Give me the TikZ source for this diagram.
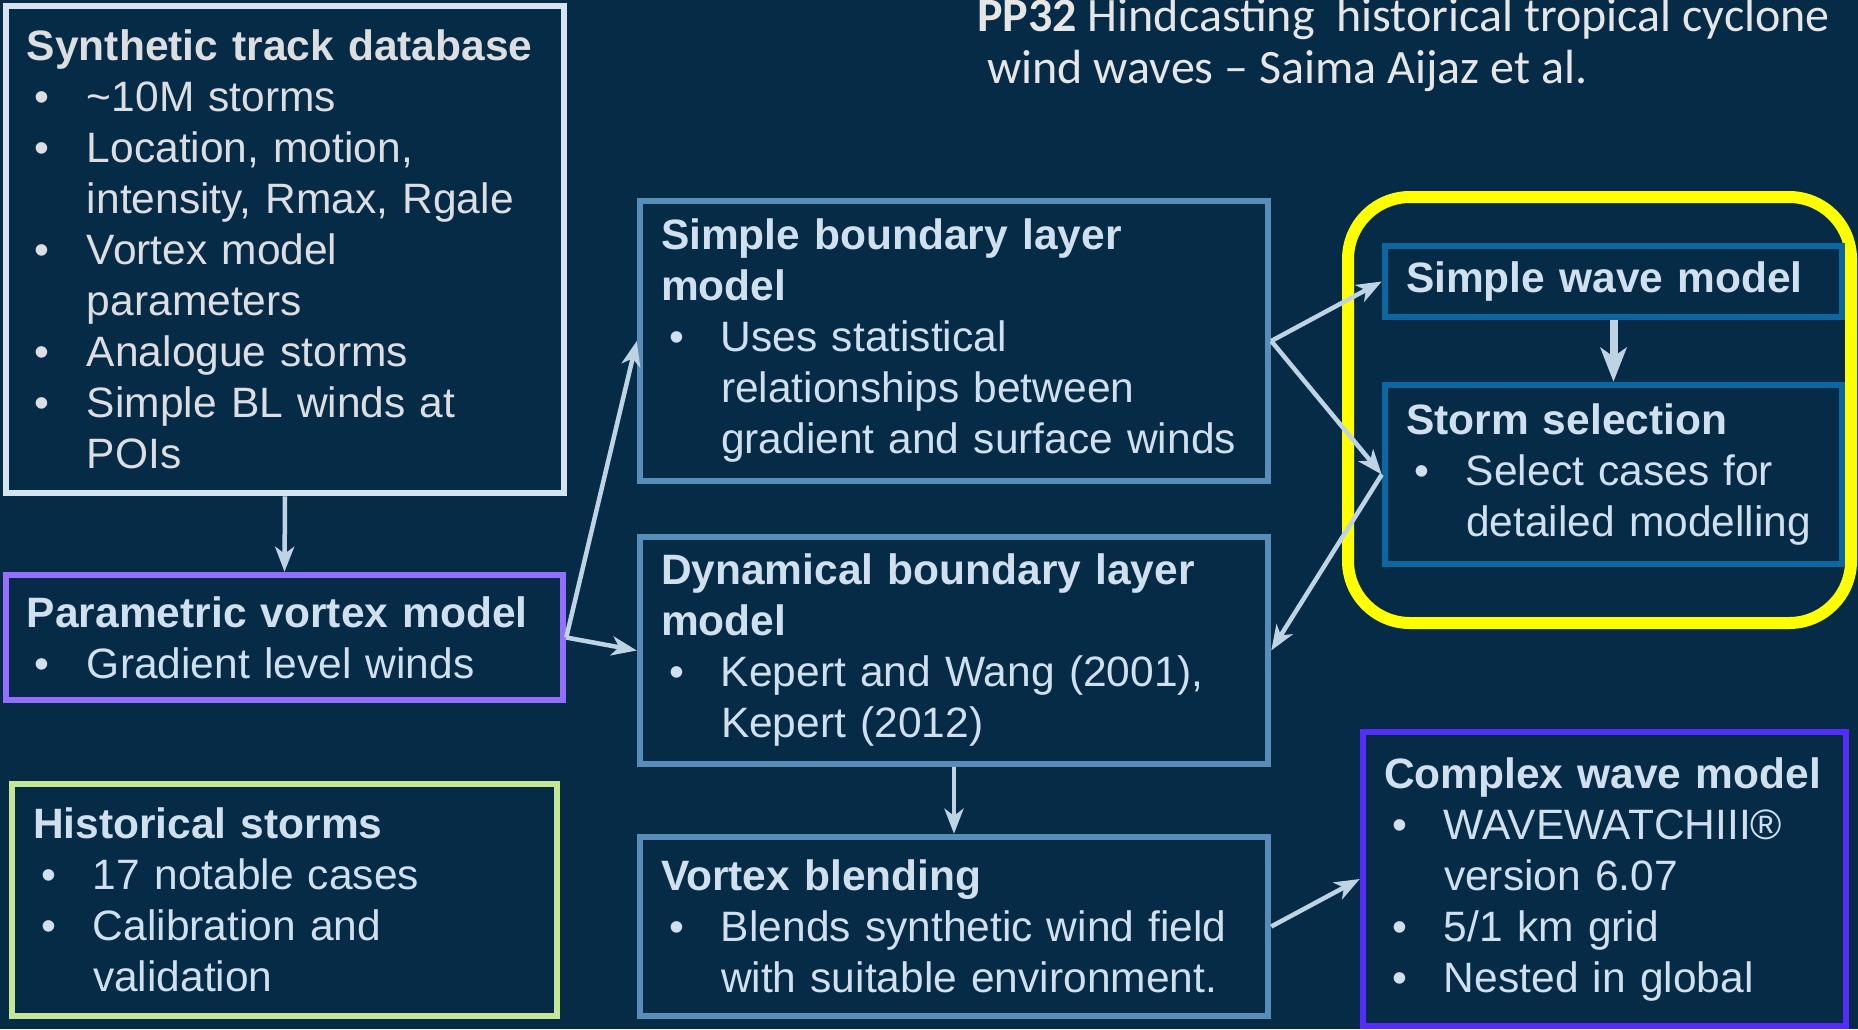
\documentclass[tikz,border=0pt]{standalone}
\usepackage{fontspec}
\setmainfont{Liberation Sans}
\newfontfamily\titlefont{Carlito}
\usetikzlibrary{arrows.meta}
\definecolor{bg}{RGB}{5,43,70}
\definecolor{synb}{RGB}{214,228,240}
\definecolor{parb}{RGB}{150,110,255}
\definecolor{hisb}{RGB}{197,230,150}
\definecolor{blb}{RGB}{88,140,185}
\definecolor{dkb}{RGB}{12,102,160}
\definecolor{yel}{RGB}{255,255,0}
\definecolor{cwb}{RGB}{85,45,250}
\definecolor{arr}{RGB}{190,212,228}
\definecolor{txt}{RGB}{208,224,238}
\definecolor{txtg}{RGB}{220,222,226}
\definecolor{ttl}{RGB}{230,230,230}
\newcommand\bul{\makebox[60pt][l]{\hspace*{8pt}\textbullet}}
\newcommand\cont{\hspace*{60pt}}
\begin{document}
\begin{tikzpicture}[x=1pt,y=-1pt,
  box/.style={draw, line width=6.5pt, inner xsep=21pt, inner ysep=0pt, align=left,
    font=\fontsize{42.5}{51}\selectfont, text=txt},
  conn/.style={draw=arr, line width=4.5pt, -{Stealth[length=25pt,width=19pt,inset=7pt]}},
  thickconn/.style={draw=arr, line width=8pt, -{Stealth[length=34pt,width=26pt,inset=9pt]}}
]
\fill[bg] (0,0) rectangle (1858,1029);
\useasboundingbox (0,0) rectangle (1858,1029);

\node[anchor=north west, inner sep=0pt, align=left, text=ttl,
  font=\titlefont\fontsize{48}{52}\selectfont] (title) at (977,-2)
  {\textbf{PP32} Hindcasting\ \ historical tropical cyclone\\\hspace*{10pt}wind waves – Saima Aijaz et al.};

\node[draw=yel, line width=12pt, rounded corners=62pt, minimum width=503pt,
  minimum height=426pt, inner sep=0pt] (grp) at (1599.5,410) {};

\node[box, draw=synb, text=txtg, minimum width=558pt, minimum height=487pt, text width=516pt]
  (syn) at (285,249.5)
  {\textbf{Synthetic track database}\\
   \bul\textasciitilde10M storms\\
   \bul Location, motion,\\
   \cont intensity, Rmax, Rgale\\
   \bul Vortex model\\
   \cont parameters\\
   \bul Analogue storms\\
   \bul Simple BL winds at\\
   \cont POIs};

\node[box, draw=parb, minimum width=557pt, minimum height=125pt, text width=515pt]
  (par) at (284.5,637.5)
  {\textbf{Parametric vortex model}\\
   \bul Gradient level winds};

\node[box, draw=hisb, minimum width=545pt, minimum height=232pt, text width=503pt]
  (his) at (284.5,900)
  {\textbf{Historical storms}\\
   \bul 17 notable cases\\
   \bul Calibration and\\
   \cont validation};

\node[box, draw=blb, minimum width=628pt, minimum height=280pt, text width=586pt]
  (sbl) at (954,341)
  {\textbf{Simple boundary layer}\\
   \textbf{model}\\
   \bul Uses statistical\\
   \cont relationships between\\
   \cont gradient and surface winds};

\node[box, draw=blb, minimum width=628pt, minimum height=227pt, text width=586pt]
  (dyn) at (954,650.5)
  {\textbf{Dynamical boundary layer}\\
   \textbf{model}\\
   \bul Kepert and Wang (2001),\\
   \cont Kepert (2012)};

\node[box, draw=blb, minimum width=628pt, minimum height=179pt, text width=586pt]
  (vtx) at (954,926.5)
  {\textbf{Vortex blending}\\
   \bul Blends synthetic wind field\\
   \cont with suitable environment.};

\node[box, draw=dkb, minimum width=457pt, minimum height=71pt, text width=415pt]
  (swm) at (1613.5,281.5)
  {\textbf{Simple wave model}};

\node[box, draw=dkb, minimum width=457pt, minimum height=179pt, text width=415pt]
  (sts) at (1613.5,474.5)
  {\textbf{Storm selection}\\
   \bul Select cases for\\
   \cont detailed modelling};

\node[box, draw=cwb, minimum width=483pt, minimum height=294pt, text width=441pt]
  (cwm) at (1604.5,879)
  {\textbf{Complex wave model}\\
   \bul WAVEWATCHIII®\\
   \cont version 6.07\\
   \bul 5/1 km grid\\
   \bul Nested in global};

\draw[conn] (syn.south) -- (par.north);
\draw[conn] (par.east) -- (sbl.west);
\draw[conn] (par.east) -- (dyn.west);
\draw[conn] (sbl.east) -- (swm.west);
\draw[conn] (sbl.east) -- (sts.west);
\draw[conn] (sts.west) -- (dyn.east);
\draw[thickconn] (swm.south) -- (sts.north);
\draw[conn] (dyn.south) -- (vtx.north);
\draw[conn] (vtx.east) -- (cwm.west);
\end{tikzpicture}
\end{document}
